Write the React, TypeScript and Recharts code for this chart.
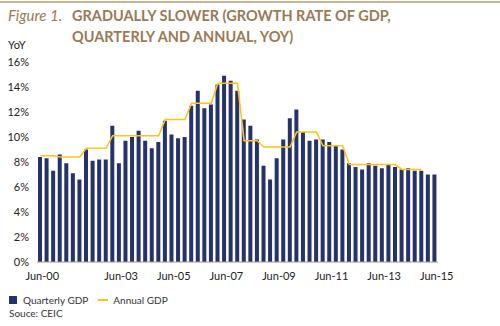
import { ComposedChart, Bar, Line, XAxis, YAxis } from 'recharts'

const quarters = [
  'Jun-00', 'Sep-00', 'Dec-00',
  'Mar-01', 'Jun-01', 'Sep-01', 'Dec-01',
  'Mar-02', 'Jun-02', 'Sep-02', 'Dec-02',
  'Mar-03', 'Jun-03', 'Sep-03', 'Dec-03',
  'Mar-04', 'Jun-04', 'Sep-04', 'Dec-04',
  'Mar-05', 'Jun-05', 'Sep-05', 'Dec-05',
  'Mar-06', 'Jun-06', 'Sep-06', 'Dec-06',
  'Mar-07', 'Jun-07', 'Sep-07', 'Dec-07',
  'Mar-08', 'Jun-08', 'Sep-08', 'Dec-08',
  'Mar-09', 'Jun-09', 'Sep-09', 'Dec-09',
  'Mar-10', 'Jun-10', 'Sep-10', 'Dec-10',
  'Mar-11', 'Jun-11', 'Sep-11', 'Dec-11',
  'Mar-12', 'Jun-12', 'Sep-12', 'Dec-12',
  'Mar-13', 'Jun-13', 'Sep-13', 'Dec-13',
  'Mar-14', 'Jun-14', 'Sep-14', 'Dec-14',
  'Mar-15', 'Jun-15',
]

const quarterlyGdp = [
  8.4, 8.3, 7.3, 8.6, 7.9, 7.1, 6.6, 9.0, 8.1, 8.2,
  8.2, 10.9, 7.9, 9.7, 10.0, 10.5, 9.7, 9.1, 9.6, 11.3,
  10.2, 9.9, 10.0, 12.5, 13.7, 12.3, 12.6, 14.2, 14.9, 14.5,
  13.7, 11.4, 10.9, 9.8, 7.7, 6.6, 8.3, 9.8, 11.5, 12.2,
  10.4, 9.7, 9.8, 9.8, 9.6, 9.3, 9.0, 7.9, 7.6, 7.4,
  7.9, 7.7, 7.5, 7.8, 7.6, 7.4, 7.5, 7.3, 7.3, 7.0, 7.0,
]

const annualGdp = [
  8.5, 8.5, 8.5,
  8.4, 8.4, 8.4, 8.4,
  9.1, 9.1, 9.1, 9.1,
  10.1, 10.1, 10.1, 10.1,
  10.1, 10.1, 10.1, 10.1,
  11.4, 11.4, 11.4, 11.4,
  12.7, 12.7, 12.7, 12.7,
  14.3, 14.3, 14.3, 14.3,
  9.7, 9.7, 9.7,
  9.2, 9.2, 9.2, 9.2, 9.2,
  10.4, 10.4, 10.4, 10.4,
  9.3, 9.3, 9.3, 9.3,
  7.8, 7.8, 7.8, 7.8, 7.8, 7.8, 7.8, 7.8,
  7.4, 7.4, 7.4, 7.4,
  null, null,
]

const xTicks = ['Jun-00', 'Jun-03', 'Jun-05', 'Jun-07', 'Jun-09', 'Jun-11', 'Jun-13', 'Jun-15']
const yTicks = [0, 2, 4, 6, 8, 10, 12, 14, 16]

const NAVY = '#25326f'
const GOLD = '#ffc414'
const BROWN = '#9b7a55'

const data = quarters.map((q, i) => ({
  q,
  quarterly: quarterlyGdp[i],
  annual: annualGdp[i],
}))

export default function App() {
  return (
    <div
      style={{
        position: 'absolute',
        left: 0,
        top: 0,
        width: 500,
        height: 326,
        background: '#fff',
        fontFamily: 'Lato, sans-serif',
        overflow: 'hidden',
      }}
    >
      <div style={{ position: 'absolute', left: 0, top: 1, width: 500, height: 2, background: '#c9b496' }} />
      <div style={{ position: 'absolute', left: 8, top: 5, color: BROWN, fontSize: 15, fontStyle: 'italic', lineHeight: '21px' }}>
        Figure 1.
      </div>
      <div style={{ position: 'absolute', left: 72, top: 5, color: BROWN, fontSize: 14.5, fontWeight: 700, lineHeight: '21px' }}>
        GRADUALLY SLOWER (GROWTH RATE OF GDP,
        <br />
        QUARTERLY AND ANNUAL, YOY)
      </div>
      <div style={{ position: 'absolute', left: 8, top: 38, fontSize: 11, color: '#222' }}>YoY</div>
      <div style={{ position: 'absolute', left: 0, top: 0 }}>
        <ComposedChart
          width={500}
          height={326}
          data={data}
          margin={{ top: 62, right: 62, bottom: 44, left: 7 }}
          barCategoryGap={0}
        >
          <XAxis
            dataKey="q"
            ticks={xTicks}
            interval={0}
            tickLine={false}
            axisLine={{ stroke: '#9a9a9a' }}
            tick={{ fontSize: 11, fill: '#222', dx: 2 }}
            tickMargin={4}
            height={20}
          />
          <YAxis
            domain={[0, 16]}
            ticks={yTicks}
            tickFormatter={(v: number) => `${v}%`}
            axisLine={false}
            tickLine={false}
            tick={{ fontSize: 11, fill: '#222' }}
            width={30}
          />
          <Bar dataKey="quarterly" name="Quarterly GDP" fill={NAVY} barSize={4} isAnimationActive={false} />
          <Line
            type="linear"
            dataKey="annual"
            name="Annual GDP"
            stroke={GOLD}
            strokeWidth={1.6}
            dot={false}
            isAnimationActive={false}
          />
        </ComposedChart>
      </div>
      <div style={{ position: 'absolute', left: 9, top: 294, display: 'flex', alignItems: 'center', fontSize: 10, color: '#333' }}>
        <span style={{ width: 8, height: 8, background: NAVY, display: 'inline-block', marginRight: 6 }} />
        <span>Quarterly GDP</span>
        <span style={{ width: 10, height: 2, background: GOLD, display: 'inline-block', margin: '0 5px 0 10px' }} />
        <span>Annual GDP</span>
      </div>
      <div style={{ position: 'absolute', left: 9, top: 307, fontSize: 10, color: '#333' }}>Souce: CEIC</div>
    </div>
  )
}
